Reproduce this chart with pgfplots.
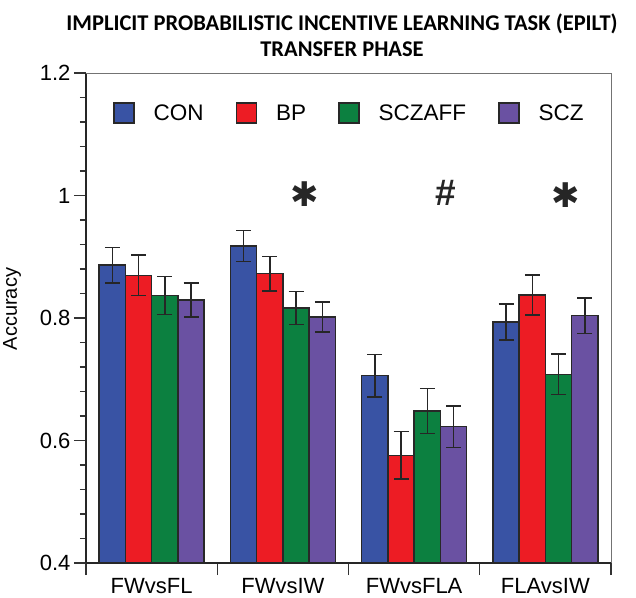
\documentclass[border=0pt]{standalone}
\usepackage{fontspec}
\setmainfont{Liberation Sans}
\newfontfamily\titlefont{Carlito}
\newfontfamily\djv{DejaVu Sans}
\usepackage{pgfplots}
\pgfplotsset{compat=1.18}
\definecolor{conblue}{RGB}{57,83,164}
\definecolor{bpred}{RGB}{237,28,36}
\definecolor{sczaffgreen}{RGB}{12,128,64}
\definecolor{sczpurple}{RGB}{106,81,162}
\definecolor{edge}{RGB}{40,40,40}
\begin{document}
\begin{tikzpicture}
\begin{axis}[
  scale only axis, width=525pt, height=490pt,
  at={(0pt,0pt)}, anchor=south west,
  xmin=-0.5, xmax=3.5, ymin=0.4, ymax=1.2,
  ytick={0.4,0.6,0.8,1,1.2},
  yticklabels={0.4,0.6,0.8,1,1.2},
  minor y tick num=4,
  xtick={-0.5,0.5,1.5,2.5,3.5},
  xticklabels={},
  extra x ticks={0,1,2,3},
  extra x tick labels={FWvsFL,FWvsIW,FWvsFLA,FLAvsIW},
  extra x tick style={tick style={draw=none}},
  tick align=outside,
  major tick length=12pt, minor tick length=6pt,
  tick style={line width=1.1pt, black!80},
  axis x line*=bottom, axis y line*=left,
  axis line style={-, line width=1.6pt, black!85},
  ticklabel style={font=\fontsize{22}{22}\selectfont},
  /pgf/number format/assume math mode=true,
  ybar, bar width=0.2,
  error bars/y dir=both, error bars/y explicit,
  error bars/error bar style={line width=1.5pt, black!85},
  error bars/error mark options={rotate=90, mark size=7.5pt, line width=1.5pt, black!85},
  legend columns=4,
  legend image code/.code={\draw[#1, line width=1.5pt] (0pt,-10pt) rectangle (20pt,10pt);},
  legend style={draw=none, fill=none, at={(0.0457,0.918)}, anchor=west,
    font=\fontsize{22.5}{22.5}\selectfont,
    nodes={inner sep=0pt},
    /tikz/every odd column/.append style={column sep=19pt},
    /tikz/every even column/.append style={column sep=32pt}},
  clip=false,
]
\addplot[fill=conblue, draw=edge, line width=1.5pt, bar shift=-0.3]
  coordinates {(0,0.8865) +- (0,0.029) (1,0.9176) +- (0,0.025) (2,0.7058) +- (0,0.035) (3,0.7935) +- (0,0.0295)};
\addplot[fill=bpred, draw=edge, line width=1.5pt, bar shift=-0.1]
  coordinates {(0,0.8697) +- (0,0.033) (1,0.8724) +- (0,0.028) (2,0.5758) +- (0,0.039) (3,0.8376) +- (0,0.033)};
\addplot[fill=sczaffgreen, draw=edge, line width=1.5pt, bar shift=0.1]
  coordinates {(0,0.8364) +- (0,0.031) (1,0.8163) +- (0,0.027) (2,0.6482) +- (0,0.037) (3,0.708) +- (0,0.033)};
\addplot[fill=sczpurple, draw=edge, line width=1.5pt, bar shift=0.3]
  coordinates {(0,0.8294) +- (0,0.028) (1,0.8016) +- (0,0.0245) (2,0.6226) +- (0,0.034) (3,0.8038) +- (0,0.029)};
\legend{CON,BP,SCZAFF,SCZ}
\draw[black!55, line width=0.8pt] (rel axis cs:0,1) -- (rel axis cs:1,1) -- (rel axis cs:1,0);
\node[font=\djv\bfseries\fontsize{34}{34}\selectfont, text=black!85] at (axis cs:1.166,1.0016) {✱};
\node[font=\bfseries\fontsize{37}{37}\selectfont, text=black!85] at (axis cs:2.239,1.004) {\#};
\node[font=\djv\bfseries\fontsize{34}{34}\selectfont, text=black!85] at (axis cs:3.153,1.0008) {✱};
\end{axis}
\node[rotate=90, font=\fontsize{20}{20}\selectfont] at (-74pt,254pt) {Accuracy};
\node[align=center, font=\titlefont\bfseries\fontsize{22.5}{26}\selectfont] at (256pt,528pt)
  {IMPLICIT PROBABILISTIC INCENTIVE LEARNING TASK (EPILT)\\TRANSFER PHASE};
\pgfresetboundingbox
\path (-86pt,-34pt) rectangle (550pt,563pt);
\end{tikzpicture}
\end{document}
